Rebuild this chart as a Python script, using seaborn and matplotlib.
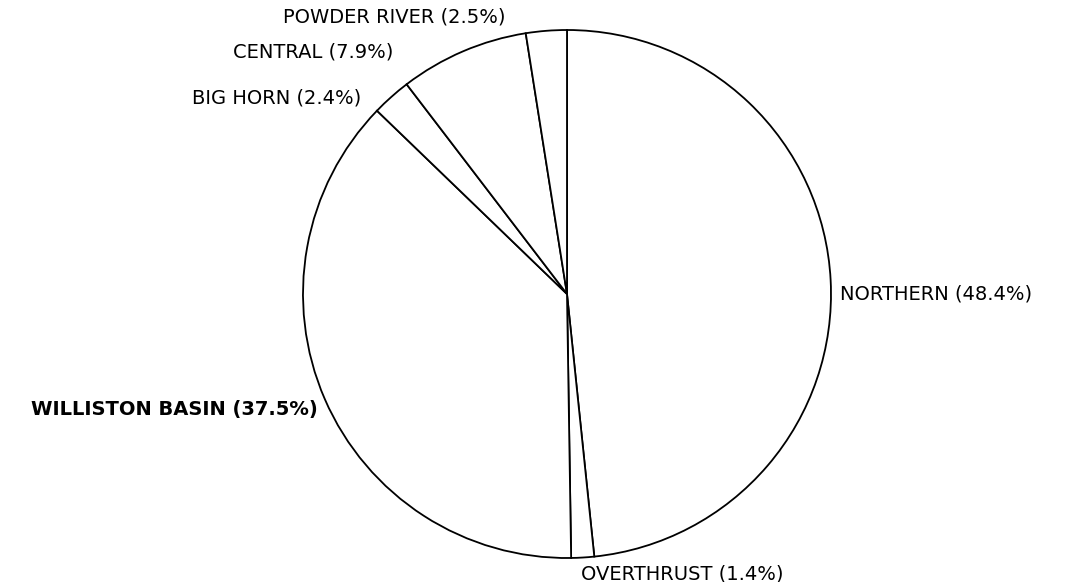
import matplotlib
matplotlib.use("Agg")
import matplotlib.pyplot as plt
import seaborn as sns

# Shares by region, clockwise from 12 o'clock
regions = ["NORTHERN", "OVERTHRUST", "WILLISTON BASIN", "BIG HORN", "CENTRAL", "POWDER RIVER"]
shares = [48.4, 1.4, 37.5, 2.4, 7.9, 2.5]

sns.set_theme(style="white")
plt.rcParams["font.family"] = ["DejaVu Sans"]

W, H = 1072, 582
CX, CY, R = 567, 294, 264  # pixel centre / radius of the pie

fig = plt.figure(figsize=(W / 100, H / 100), dpi=100)
ax = fig.add_axes([0, 0, 1, 1])
ax.pie(shares, startangle=90, counterclock=False, radius=1,
       colors=["white"] * len(shares),
       wedgeprops={"edgecolor": "black", "linewidth": 1.3})
ax.set_xlim(-CX / R, (W - CX) / R)
ax.set_ylim(-(H - CY) / R, CY / R)
ax.set_aspect("equal")
ax.axis("off")

# label anchor spots (pixel), alignment, weight
label_spots = {
    "NORTHERN": (840, 294, "left", "normal"),
    "OVERTHRUST": (581, 574, "left", "normal"),
    "WILLISTON BASIN": (318, 409, "right", "bold"),
    "BIG HORN": (361, 98, "right", "normal"),
    "CENTRAL": (393, 52, "right", "normal"),
    "POWDER RIVER": (505, 17, "right", "normal"),
}
for name, val in zip(regions, shares):
    px, py, ha, fw = label_spots[name]
    ax.text((px - CX) / R, (CY - py) / R, f"{name} ({val}%)",
            ha=ha, va="center", fontsize=14, fontweight=fw, color="black")

fig.savefig("out.png", dpi=100, facecolor="white")
